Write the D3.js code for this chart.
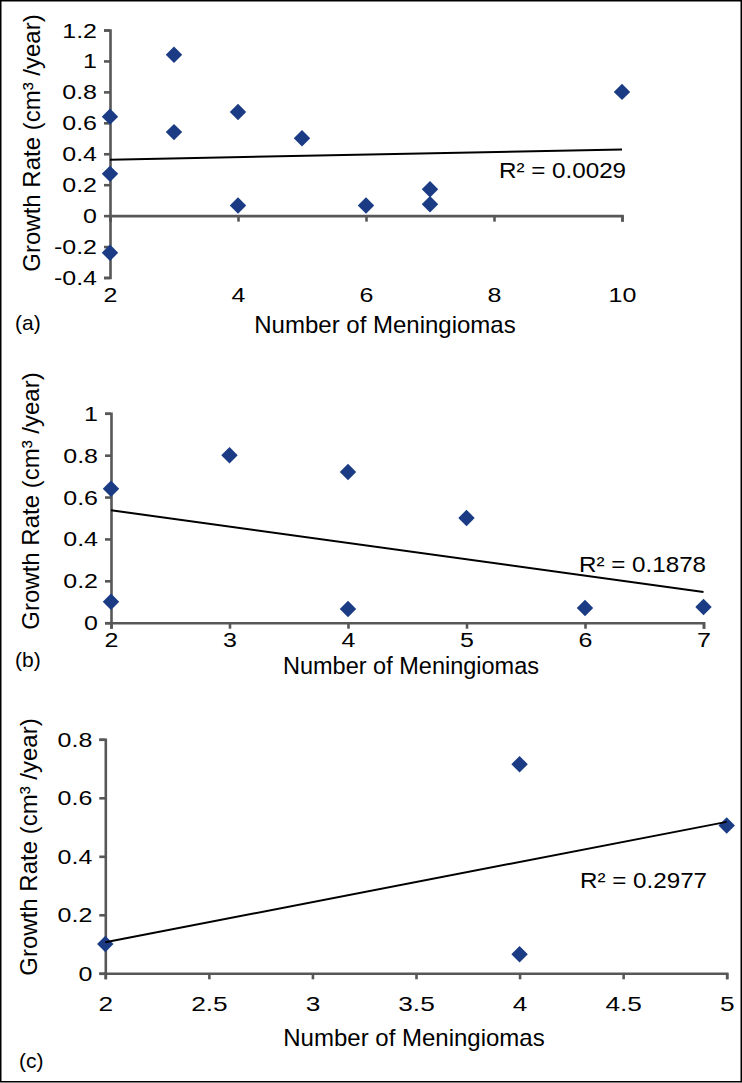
<!DOCTYPE html>
<html>
<head>
<meta charset="utf-8">
<script src="https://cdn.jsdelivr.net/npm/d3@7"></script>
<style>
  html, body { margin: 0; padding: 0; background: #fff; }
  svg { display: block; font-family: "Liberation Sans", Arial, sans-serif; }
</style>
</head>
<body>
<svg id="chart" width="742" height="1083"></svg>
<script>
// ---------- data ----------
const aX = [2, 2, 2, 3, 3, 4, 4, 5, 6, 7, 7, 10];
const aY = [0.64, 0.27, -0.24, 1.04, 0.54, 0.67, 0.065, 0.50, 0.065, 0.17, 0.073, 0.80];
const aXTicks = [2, 4, 6, 8, 10];
const aXTickLabels = ["2", "4", "6", "8", "10"];
const aYTicks = [-0.4, -0.2, 0, 0.2, 0.4, 0.6, 0.8, 1, 1.2];
const aYTickLabels = ["-0.4", "-0.2", "0", "0.2", "0.4", "0.6", "0.8", "1", "1.2"];
const aR2 = "R² = 0.0029";

const bX = [2, 2, 3, 4, 4, 5, 6, 7];
const bY = [0.64, 0.10, 0.80, 0.72, 0.065, 0.50, 0.07, 0.075];
const bXTicks = [2, 3, 4, 5, 6, 7];
const bXTickLabels = ["2", "3", "4", "5", "6", "7"];
const bYTicks = [0, 0.2, 0.4, 0.6, 0.8, 1];
const bYTickLabels = ["0", "0.2", "0.4", "0.6", "0.8", "1"];
const bR2 = "R² = 0.1878";

const cX = [2, 4, 4, 5];
const cY = [0.10, 0.715, 0.065, 0.505];
const cXTicks = [2, 2.5, 3, 3.5, 4, 4.5, 5];
const cXTickLabels = ["2", "2.5", "3", "3.5", "4", "4.5", "5"];
const cYTicks = [0, 0.2, 0.4, 0.6, 0.8];
const cYTickLabels = ["0", "0.2", "0.4", "0.6", "0.8"];
const cR2 = "R² = 0.2977";

const xTitle = "Number of Meningiomas";
const yTitle = "Growth Rate (cm³ /year)";
const panelTags = ["(a)", "(b)", "(c)"];

// ---------- layout ----------
const panels = [
  { tag: panelTags[0], xs: aX, ys: aY, xTicks: aXTicks, xLabels: aXTickLabels, yTicks: aYTicks, yLabels: aYTickLabels, r2: aR2,
    xDomain: [2, 10], yDomain: [-0.4, 1.2], xRange: [110, 622], yRange: [277.5, 30],
    xLabelY: 302, titleX: 385, titleY: 333, titleFs: 24, tagX: 15, tagY: 330, yTitleX: 40, yTitleY: 143, r2X: 499, r2Y: 178, xFs: 20 },
  { tag: panelTags[1], xs: bX, ys: bY, xTicks: bXTicks, xLabels: bXTickLabels, yTicks: bYTicks, yLabels: bYTickLabels, r2: bR2,
    xDomain: [2, 7], yDomain: [0, 1], xRange: [111, 703.5], yRange: [622.7, 413.3],
    xLabelY: 647, titleX: 411, titleY: 674, titleFs: 23.5, tagX: 15, tagY: 667, yTitleX: 38.5, yTitleY: 501, r2X: 579, r2Y: 571.5, xFs: 20 },
  { tag: panelTags[2], xs: cX, ys: cY, xTicks: cXTicks, xLabels: cXTickLabels, yTicks: cYTicks, yLabels: cYTickLabels, r2: cR2,
    xDomain: [2, 5], yDomain: [0, 0.8], xRange: [105.3, 726.7], yRange: [973.3, 739.3],
    xLabelY: 1011, titleX: 414, titleY: 1046, titleFs: 24, tagX: 19, tagY: 1068, yTitleX: 37, yTitleY: 847, r2X: 580, r2Y: 887.5, xFs: 21 }
];

const AXIS_COLOR = "#575757";
const MARK_COLOR = "#1b3c85";
const SX = 1.25; // horizontal stretch of tick labels seen in the reference

const svg = d3.select("#chart");

svg.append("rect")
  .attr("x", 0.75).attr("y", 0.75)
  .attr("width", 740.5).attr("height", 1081)
  .attr("fill", "#fff").attr("stroke", "#000").attr("stroke-width", 1.5);

function regression(xs, ys) {
  const n = xs.length;
  const mx = d3.mean(xs), my = d3.mean(ys);
  let sxy = 0, sxx = 0;
  for (let i = 0; i < n; i++) { sxy += (xs[i] - mx) * (ys[i] - my); sxx += (xs[i] - mx) ** 2; }
  const slope = sxy / sxx;
  return x => my + slope * (x - mx);
}

const diamond = d3.symbol().type(d3.symbolSquare).size(135);

panels.forEach(p => {
  const x = d3.scaleLinear().domain(p.xDomain).range(p.xRange);
  const y = d3.scaleLinear().domain(p.yDomain).range(p.yRange);
  const g = svg.append("g");
  const y0 = y(Math.max(p.yDomain[0], 0));

  // Y axis
  const yAxis = g.append("g")
    .attr("transform", `translate(${x(p.xDomain[0])},0)`)
    .call(d3.axisLeft(y).tickValues(p.yTicks).tickFormat((d, i) => p.yLabels[i]).tickSize(6).tickSizeOuter(6).tickPadding(7));
  // X axis at y = 0
  const xAxis = g.append("g")
    .attr("transform", `translate(0,${y0})`)
    .call(d3.axisBottom(x).tickValues(p.xTicks).tickFormat((d, i) => p.xLabels[i]).tickSize(6).tickSizeOuter(6));

  [yAxis, xAxis].forEach(ax => {
    ax.select(".domain").attr("stroke", AXIS_COLOR).attr("stroke-width", 2.6);
    ax.selectAll(".tick line").attr("stroke", AXIS_COLOR).attr("stroke-width", 2.6);
    ax.selectAll("text").attr("fill", "#000").attr("font-family", "'Liberation Sans', Arial, sans-serif");
  });
  yAxis.selectAll(".tick text")
    .attr("font-size", 20)
    .attr("x", -13 / SX)
    .attr("dy", "0.35em")
    .attr("transform", `scale(${SX},1)`);
  xAxis.selectAll(".tick text")
    .attr("font-size", p.xFs)
    .attr("y", p.xLabelY - y0)
    .attr("dy", 0)
    .attr("x", 0)
    .attr("transform", `scale(${SX},1)`);

  // markers
  g.append("g").selectAll("path")
    .data(p.xs.map((v, i) => [v, p.ys[i]]))
    .join("path")
    .attr("d", diamond)
    .attr("fill", MARK_COLOR)
    .attr("transform", d => `translate(${x(d[0])},${y(d[1])}) rotate(45)`);

  // linear trend line
  const f = regression(p.xs, p.ys);
  const ext = d3.extent(p.xs);
  g.append("path")
    .attr("d", d3.line().x(d => x(d)).y(d => y(f(d)))(ext))
    .attr("stroke", "#000").attr("stroke-width", 2).attr("fill", "none");

  // R² label
  g.append("text")
    .attr("transform", `translate(${p.r2X},${p.r2Y}) scale(1.1,1)`)
    .attr("font-size", 22)
    .attr("fill", "#000")
    .text(p.r2);

  // axis titles
  g.append("text")
    .attr("x", p.titleX).attr("y", p.titleY)
    .attr("text-anchor", "middle")
    .attr("font-size", p.titleFs)
    .text(xTitle);
  g.append("text")
    .attr("transform", `translate(${p.yTitleX},${p.yTitleY}) rotate(-90)`)
    .attr("text-anchor", "middle")
    .attr("font-size", 24)
    .text(yTitle);

  // panel tag
  g.append("text")
    .attr("x", p.tagX).attr("y", p.tagY)
    .attr("font-size", 21)
    .text(p.tag);
});
</script>
</body>
</html>
